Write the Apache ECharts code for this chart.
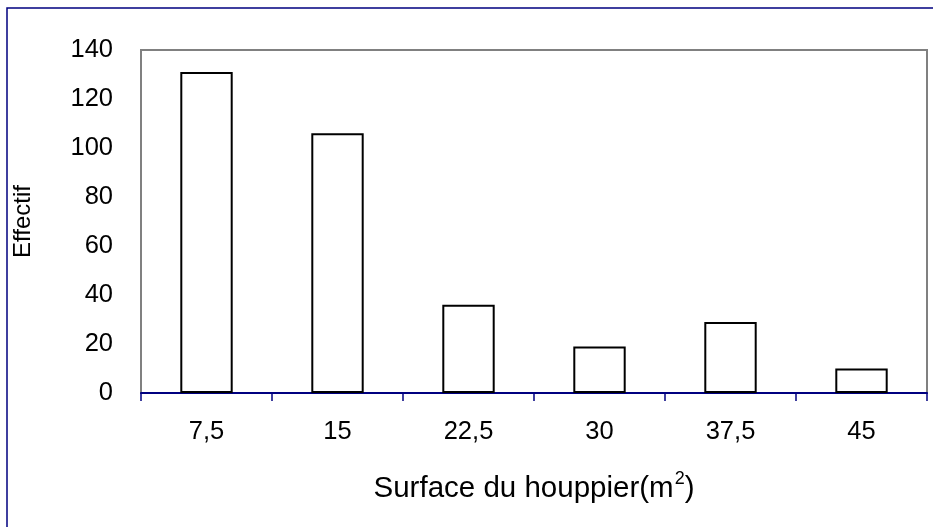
<!DOCTYPE html>
<html>
<head>
	<meta charset="UTF-8">
	<title>Effectif</title>
	<script src="https://cdn.jsdelivr.net/npm/echarts@6/dist/echarts.min.js"></script>
	<style>
		html, body { margin: 0; padding: 0; background: #fff; }
	</style>
</head>
<body>
	<div id="main" style="width: 933px;height:527px;"></div>
	<script type="text/javascript">
		// classes de surface (m2) et effectifs
		var categories = ['7,5', '15', '22,5', '30', '37,5', '45'];
		var effectif = [131, 106, 36, 19, 29, 10];
		var yTicks = { min: 0, max: 140, interval: 20 };

		var myChart = echarts.init(document.getElementById('main'));
		var font = 'Liberation Sans, Arial, sans-serif';

		myChart.setOption({
			backgroundColor: '#fff',
			animation: false,
			// cadre extérieur du graphique
			graphic: [{
				type: 'rect',
				shape: { x: 7, y: 8, width: 1000, height: 1000 },
				style: { fill: 'none', stroke: '#000080', lineWidth: 1.5 },
				silent: true
			}],
			grid: {
				left: 141,
				right: 6,
				top: 50,
				bottom: 134,
				show: true,
				borderColor: '#808080',
				borderWidth: 2,
				backgroundColor: '#fff'
			},
			xAxis: {
				type: 'category',
				data: categories,
				name: '{t|Surface du houppier(m}{s|2}{t|)}',
				nameLocation: 'middle',
				nameGap: 77,
				nameTextStyle: {
					rich: {
						t: { fontFamily: font, fontSize: 29.5, color: '#000', lineHeight: 34, verticalAlign: 'bottom' },
						s: { fontFamily: font, fontSize: 18, color: '#000', lineHeight: 16, verticalAlign: 'top', padding: [0, 0, 0, 1] }
					}
				},
				axisLine: { lineStyle: { color: '#000080', width: 2 } },
				axisTick: { show: true, interval: 0, length: 8, lineStyle: { color: '#000080', width: 1.5 } },
				axisLabel: { color: '#000', fontFamily: font, fontSize: 25.5, margin: 26 },
				splitLine: { show: false }
			},
			yAxis: {
				type: 'value',
				min: yTicks.min,
				max: yTicks.max,
				interval: yTicks.interval,
				name: 'Effectif',
				nameLocation: 'middle',
				nameGap: 106,
				nameTextStyle: { color: '#000', fontFamily: font, fontSize: 24 },
				axisLine: { show: false },
				axisTick: { show: false },
				axisLabel: { color: '#000', fontFamily: font, fontSize: 25.5, margin: 28 },
				splitLine: { show: false }
			},
			series: [{
				type: 'bar',
				data: effectif,
				barWidth: '40%',
				itemStyle: { color: '#fff', borderColor: '#000', borderWidth: 2 }
			}]
		});
	</script>
</body>
</html>
